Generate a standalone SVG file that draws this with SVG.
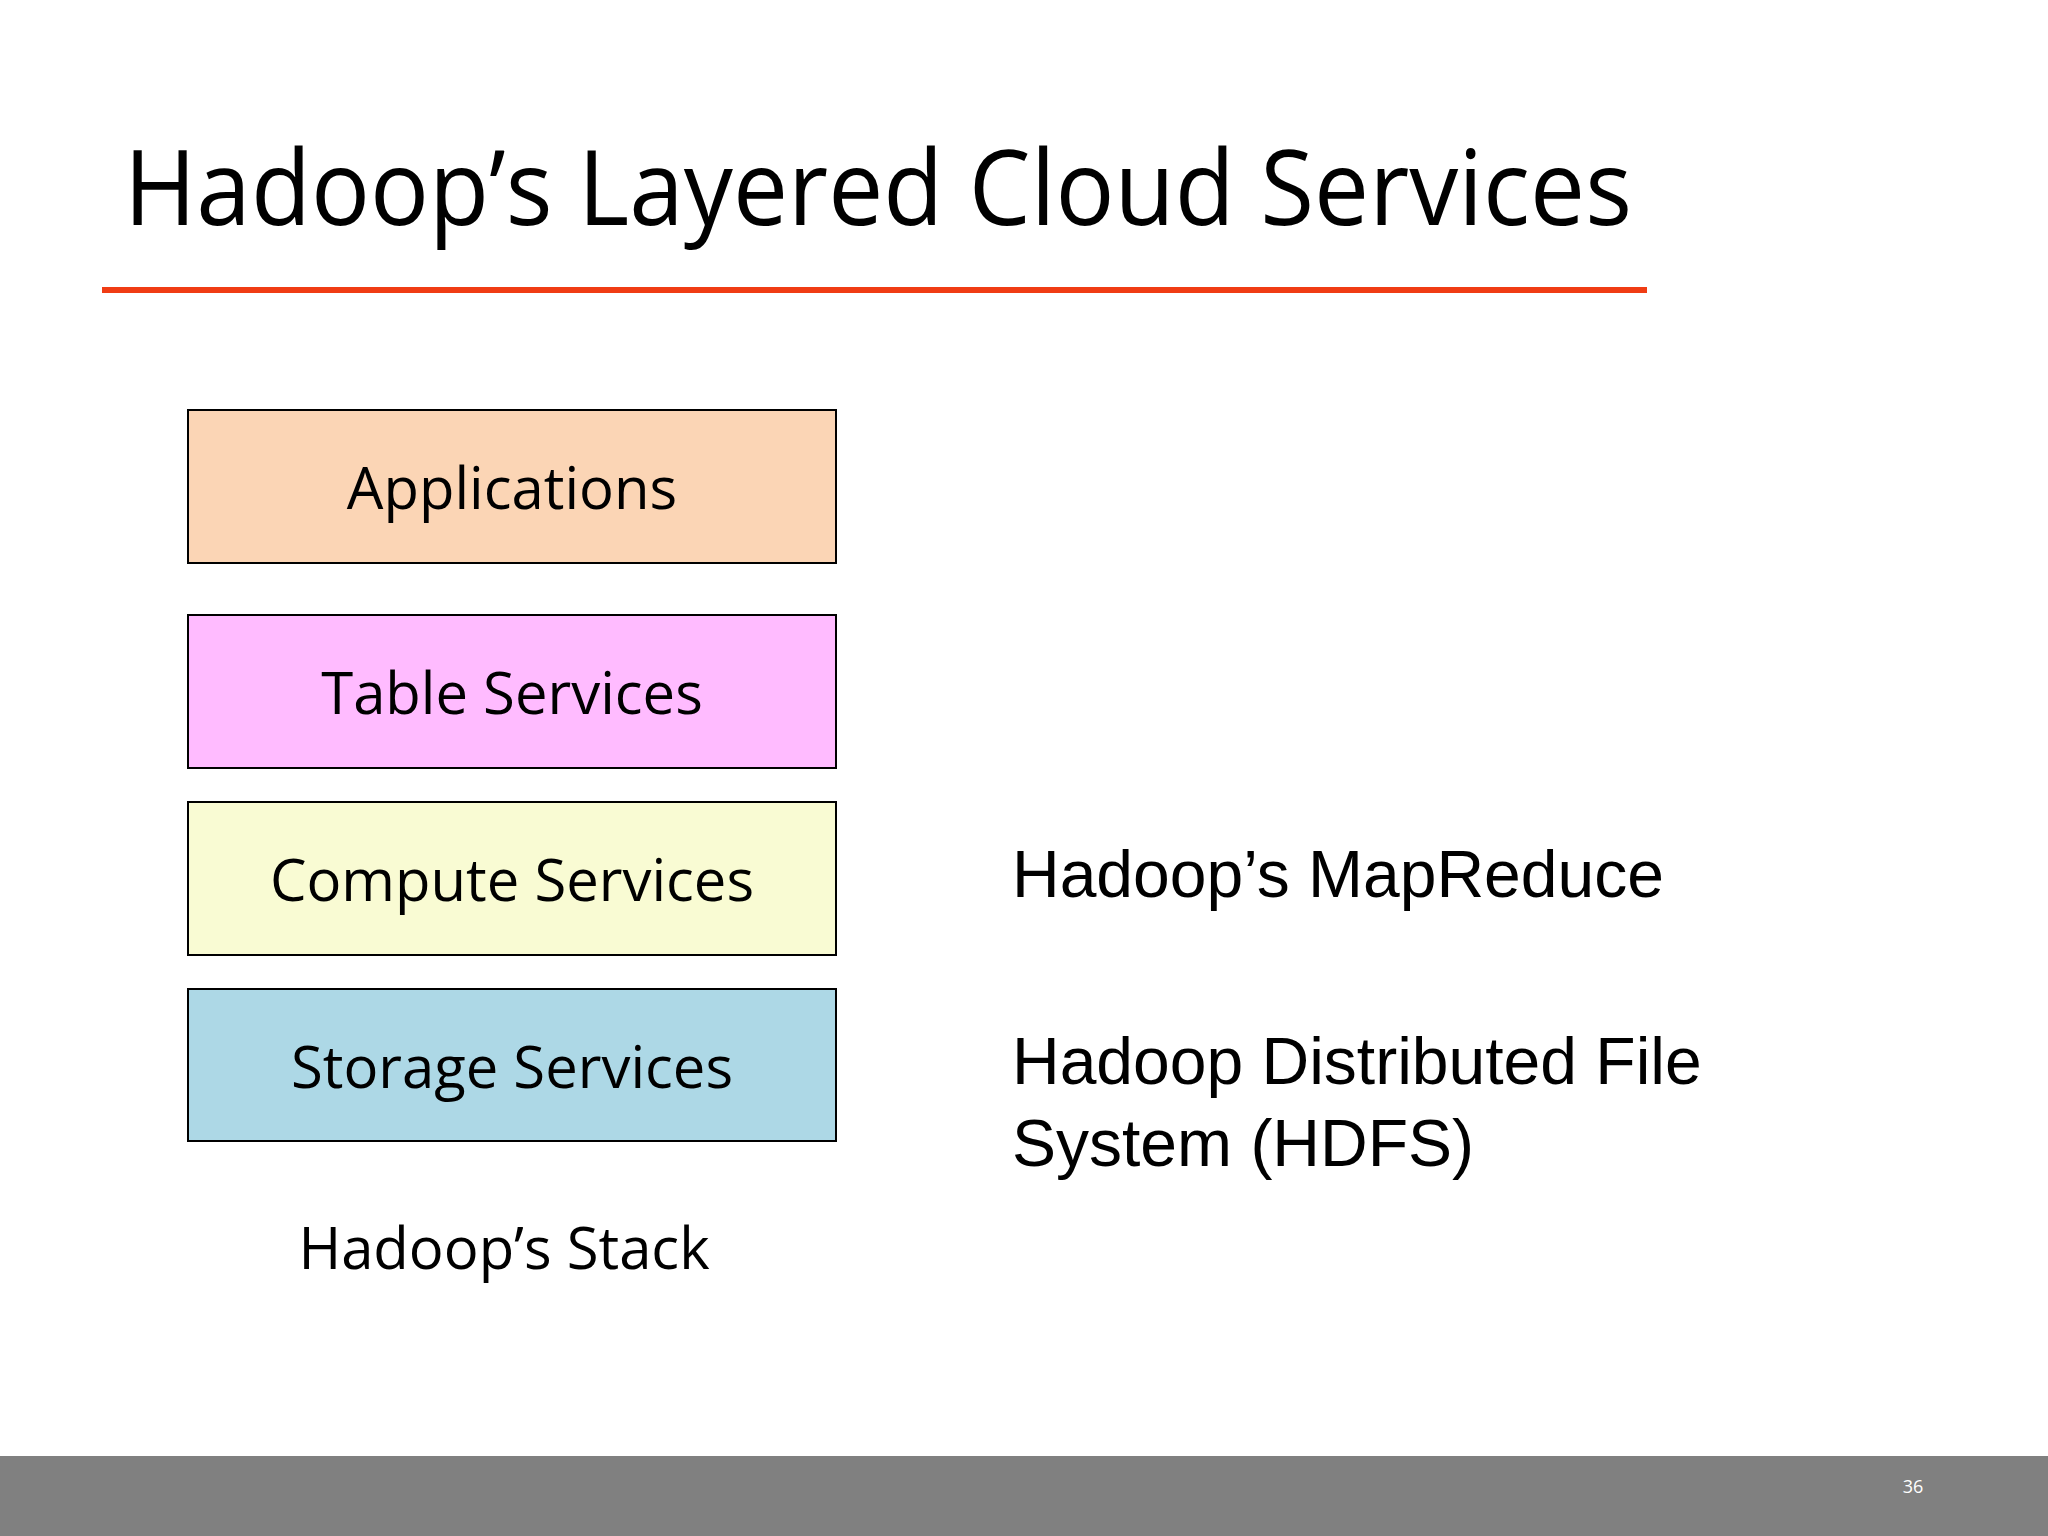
<svg xmlns="http://www.w3.org/2000/svg" width="2048" height="1536" viewBox="0 0 2048 1536">
<style>
.box{stroke:#000;stroke-width:2}
.bt{font-family:"Open Sans","Liberation Sans",sans-serif;font-size:58px;text-anchor:middle;fill:#000}
.rt{font-family:"Liberation Sans",Arial,sans-serif;font-size:66px;fill:#000}
</style>
<rect width="2048" height="1536" fill="#fff"/>
<text x="124" y="225" font-family="Open Sans, Liberation Sans, sans-serif" font-size="104" textLength="1508" lengthAdjust="spacingAndGlyphs">Hadoop’s Layered Cloud Services</text>
<rect x="102" y="287" width="1545" height="6" fill="#f03c14"/>
<g id="applications"><rect class="box" x="188" y="410" width="648" height="153" fill="#fbd5b5"/><text class="bt" x="512" y="509">Applications</text></g>
<g id="table"><rect class="box" x="188" y="615" width="648" height="153" fill="#ffbbff"/><text class="bt" x="512" y="714">Table Services</text></g>
<g id="compute"><rect class="box" x="188" y="802" width="648" height="153" fill="#f9fbd3"/><text class="bt" x="512" y="901">Compute Services</text></g>
<g id="storage"><rect class="box" x="188" y="989" width="648" height="152" fill="#add8e6"/><text class="bt" x="512" y="1088">Storage Services</text></g>
<g id="connectors"/>
<text class="bt" x="504" y="1269">Hadoop’s Stack</text>
<text class="rt" x="1012" y="897">Hadoop’s MapReduce</text>
<text class="rt" x="1012" y="1084">Hadoop Distributed File</text>
<text class="rt" x="1012" y="1166">System (HDFS)</text>
<rect x="0" y="1456" width="2048" height="80" fill="#808080"/>
<text x="1913" y="1493" font-family="Open Sans, Liberation Sans, sans-serif" font-size="18" fill="#fff" text-anchor="middle">36</text>
</svg>
